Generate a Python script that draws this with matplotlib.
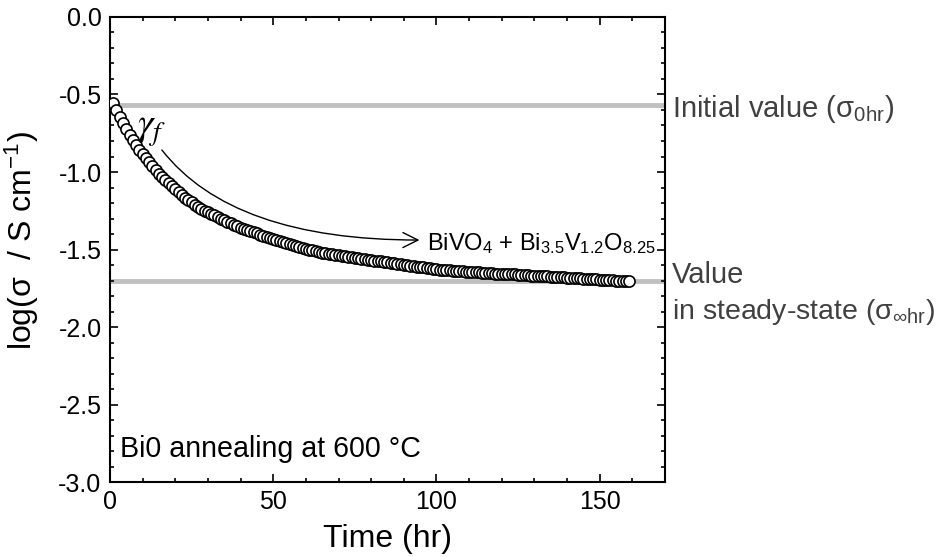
import numpy as np
import matplotlib
matplotlib.use("Agg")
import matplotlib.pyplot as plt
from matplotlib.patches import FancyArrowPatch

plt.rcParams["font.family"] = ["Liberation Sans", "DejaVu Sans"]
plt.rcParams["mathtext.fontset"] = "custom"
plt.rcParams["mathtext.rm"] = "Liberation Sans"
plt.rcParams["mathtext.it"] = "Liberation Sans:italic"
plt.rcParams["axes.unicode_minus"] = False

# annealing time (hr), one reading per hour
time_hr = np.arange(1, 160)

# log conductivity
log_sigma = [
    -0.555, -0.60, -0.645, -0.685, -0.725, -0.762, -0.795, -0.828, -0.858, -0.885,
    -0.91, -0.935, -0.96, -0.985, -1.01, -1.03, -1.05, -1.07, -1.09, -1.11,
    -1.13, -1.15, -1.165, -1.18, -1.195, -1.21, -1.225, -1.24, -1.25, -1.26,
    -1.27, -1.28, -1.29, -1.30, -1.31, -1.32, -1.33, -1.34, -1.35, -1.36,
    -1.365, -1.375, -1.38, -1.39, -1.395, -1.405, -1.41, -1.42, -1.425, -1.43,
    -1.44, -1.445, -1.45, -1.46, -1.465, -1.47, -1.48, -1.485, -1.49, -1.495,
    -1.50, -1.505, -1.51, -1.515, -1.52, -1.523, -1.527, -1.53, -1.534, -1.537,
    -1.54, -1.544, -1.547, -1.55, -1.553, -1.556, -1.559, -1.562, -1.565, -1.568,
    -1.571, -1.574, -1.577, -1.58, -1.583, -1.586, -1.589, -1.592, -1.595, -1.598,
    -1.601, -1.604, -1.607, -1.61, -1.613, -1.616, -1.619, -1.622, -1.625, -1.628,
    -1.63, -1.631, -1.633, -1.634, -1.636, -1.637, -1.639, -1.64, -1.642, -1.643,
    -1.645, -1.646, -1.648, -1.649, -1.651, -1.652, -1.653, -1.655, -1.656, -1.657,
    -1.658, -1.659, -1.66, -1.661, -1.663, -1.664, -1.665, -1.666, -1.668, -1.669,
    -1.67, -1.671, -1.673, -1.674, -1.675, -1.676, -1.678, -1.679, -1.68, -1.681,
    -1.683, -1.684, -1.685, -1.686, -1.688, -1.689, -1.69, -1.691, -1.693, -1.694,
    -1.695, -1.696, -1.698, -1.699, -1.70, -1.701, -1.702, -1.703, -1.705,
]

initial_value = -0.57
steady_value = -1.70

x_ticks = [0, 50, 100, 150]
y_ticks = [0.0, -0.5, -1.0, -1.5, -2.0, -2.5, -3.0]

fig = plt.figure(figsize=(9.39, 5.57), dpi=100)
ax = fig.add_axes([0.1171, 0.1346, 0.5911, 0.8349])

ax.axhline(initial_value, color="#c0c0c0", lw=3.5, zorder=1)
ax.axhline(steady_value, color="#c0c0c0", lw=3.5, zorder=1)

ax.plot(time_hr, log_sigma, "o", ms=8, mfc="white", mec="black", mew=1.2, zorder=3)

ax.set_xlim(0, 170)
ax.set_ylim(-3.0, 0.0)
ax.set_xticks(x_ticks)
ax.set_yticks(y_ticks)
ax.set_yticklabels([f"{v:.1f}" for v in y_ticks])
ax.set_xticks(np.arange(0, 171, 10), minor=True)
ax.set_yticks(np.arange(-3.0, 0.01, 0.1), minor=True)
ax.tick_params(which="both", direction="in", top=True, right=True, width=1.2)
ax.tick_params(which="major", length=6, labelsize=18, pad=6)
ax.tick_params(which="minor", length=3)
for s in ax.spines.values():
    s.set_linewidth(1.5)

ax.set_xlabel("Time (hr)", fontsize=23, labelpad=7)
ax.set_ylabel("log(σ  / S cm$^{-1}$)", fontsize=23)
ax.yaxis.set_label_coords(-0.125, 0.52)

# labels for the two reference levels
lab_col = "#404040"
ax.text(172, -0.645, r"Initial value (σ$_{\mathrm{0hr}}$)", fontsize=21,
        color=lab_col, clip_on=False)
ax.text(172, -1.716, "Value", fontsize=21, color=lab_col, clip_on=False)
ax.text(172, -1.948, r"in steady-state (σ$_{\infty\mathrm{hr}}$)", fontsize=20.5,
        color=lab_col, clip_on=False)

ax.text(3.0, -2.84, "Bi0 annealing at 600 °C", fontsize=20.6)
ax.text(97.2, -1.503, r"BiVO$_4$ + Bi$_{3.5}$V$_{1.2}$O$_{8.25}$", fontsize=17)
ax.text(8.3, -0.77, r"$\gamma_f$", fontsize=28, math_fontfamily="stix")

arrow = FancyArrowPatch((15.9, -0.858), (94.8, -1.439),
                        connectionstyle="angle3,angleA=-52,angleB=0",
                        arrowstyle="->,head_length=0.6,head_width=0.3",
                        mutation_scale=18, lw=1.0, color="black",
                        shrinkA=0, shrinkB=0)
ax.add_patch(arrow)

fig.savefig("out.png", dpi=100)
